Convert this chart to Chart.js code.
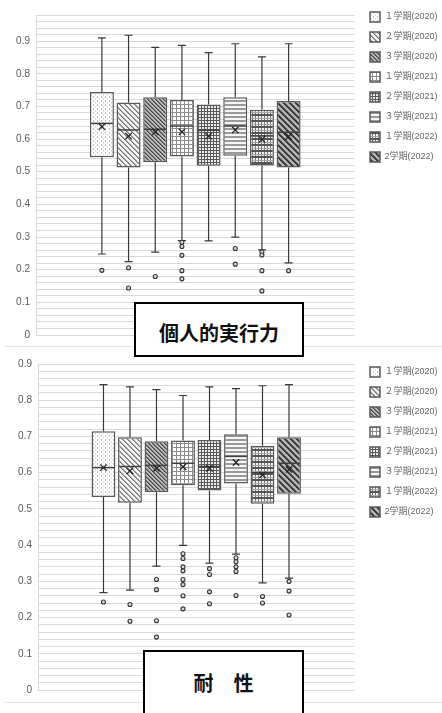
<!DOCTYPE html>
<html lang="ja">
<head>
<meta charset="utf-8">
<title>個人的実行力・耐性</title>
<script src="https://cdn.jsdelivr.net/npm/chart.js@4.4.1/dist/chart.umd.min.js"></script>
<style>
  html, body { margin: 0; padding: 0; background: #fff; }
  #page { position: relative; width: 442px; height: 713px; overflow: hidden; background: #fff; }
  canvas { position: absolute; left: 0; }
  .rule { position: absolute; left: 5px; width: 437px; height: 1px; background: #e4e4e4; }
  .titlebox {
    position: absolute; box-sizing: border-box; background: #fff;
    border: 2px solid #000; text-align: center; color: #111;
    font-family: "Noto Sans CJK JP", sans-serif; font-weight: 700; font-size: 20px;
  }
</style>
</head>
<body>
<div id="page">
  <canvas id="chartJikkou" width="442" height="347" style="top:0"></canvas>
  <canvas id="chartTaisei" width="442" height="366" style="top:347px"></canvas>
  <div class="rule" style="top:346px"></div>
  <div class="rule" style="top:702px"></div>
  <div class="titlebox" style="left:134px;top:302px;width:170px;height:55px;line-height:24px;padding-top:17px;">個人的実行力</div>
  <div class="titlebox" style="left:143px;top:650px;width:161px;height:80px;line-height:24px;padding-top:19px;">耐　性</div>
</div>
<script>
// Terms (legend entries)
const terms = ['１学期(2020)', '２学期(2020)', '３学期(2020)', '１学期(2021)',
               '２学期(2021)', '３学期(2021)', '１学期(2022)', '2学期(2022)'];

// 個人的実行力
const jikkouQ1     = [0.544, 0.513, 0.529, 0.547, 0.518, 0.549, 0.519, 0.513];
const jikkouQ3     = [0.744, 0.712, 0.728, 0.720, 0.706, 0.728, 0.690, 0.717];
const jikkouMedian = [0.648, 0.628, 0.630, 0.640, 0.627, 0.640, 0.610, 0.621];
const jikkouMean   = [0.638, 0.609, 0.622, 0.622, 0.609, 0.628, 0.599, 0.608];
const jikkouLow    = [0.248, 0.225, 0.254, 0.289, 0.288, 0.300, 0.261, 0.221];
const jikkouHigh   = [0.910, 0.918, 0.881, 0.887, 0.865, 0.892, 0.852, 0.892];
const jikkouOut    = [[0.198], [0.206, 0.144], [0.179], [0.284, 0.271, 0.244, 0.197, 0.172],
                      [], [0.265, 0.217], [0.254, 0.245, 0.197, 0.135], [0.197]];

// 耐性
const taiseiQ1     = [0.533, 0.517, 0.546, 0.565, 0.551, 0.570, 0.514, 0.542];
const taiseiQ3     = [0.714, 0.698, 0.687, 0.689, 0.690, 0.706, 0.674, 0.698];
const taiseiMedian = [0.614, 0.617, 0.620, 0.626, 0.617, 0.645, 0.600, 0.626];
const taiseiMean   = [0.614, 0.605, 0.612, 0.616, 0.612, 0.628, 0.594, 0.609];
const taiseiLow    = [0.269, 0.276, 0.342, 0.399, 0.350, 0.375, 0.296, 0.309];
const taiseiHigh   = [0.843, 0.837, 0.829, 0.813, 0.837, 0.832, 0.840, 0.843];
const taiseiOut    = [[0.243], [0.236, 0.190], [0.305, 0.277, 0.191, 0.146],
                      [0.376, 0.363, 0.340, 0.329, 0.305, 0.291, 0.260, 0.224],
                      [0.335, 0.319, 0.271, 0.238], [0.365, 0.354, 0.340, 0.327, 0.261],
                      [0.258, 0.240], [0.300, 0.273, 0.207]];

// Axis ranges and tick step
const jikkouMax = 0.98;
const taiseiMax = 0.9;
const tickStep = 0.02;

// ---- hatch fills ----
function makePattern(size, paint) {
  const c = document.createElement('canvas');
  c.width = size; c.height = size;
  const g = c.getContext('2d');
  paint(g, size);
  return g.createPattern(c, 'repeat');
}
function dot(g, x, y, col) { g.fillStyle = col; g.fillRect(x, y, 1, 1); }
function bg(g, s, col) { g.fillStyle = col; g.fillRect(0, 0, s, s); }

const fills = [
  // light vertical dashes
  makePattern(4, (g, s) => { bg(g, s, '#ffffff'); dot(g, 1, 0, '#b4b4b4'); dot(g, 1, 1, '#c8c8c8'); dot(g, 3, 2, '#d8d8d8'); dot(g, 3, 3, '#e4e4e4'); }),
  // wide downward diagonal
  makePattern(5, (g, s) => { bg(g, s, '#f4f4f4'); for (let i = 0; i < s; i++) { dot(g, i, i, '#737373'); dot(g, (i + 1) % s, i, '#a8a8a8'); } }),
  // dark downward diagonal
  makePattern(4, (g, s) => { bg(g, s, '#bababa'); for (let i = 0; i < s; i++) { dot(g, i, i, '#4a4a4a'); dot(g, (i + 1) % s, i, '#747474'); } }),
  // small grid
  makePattern(4, (g, s) => { bg(g, s, '#ffffff'); g.fillStyle = '#8c8c8c'; g.fillRect(0, 0, s, 1); g.fillRect(0, 0, 1, s); }),
  // dense dark grid
  makePattern(3, (g, s) => { bg(g, s, '#ececec'); g.fillStyle = '#585858'; g.fillRect(0, 0, s, 1); g.fillRect(0, 0, 1, s); }),
  // horizontal stripes
  makePattern(4, (g, s) => { bg(g, s, '#f6f6f6'); g.fillStyle = '#9a9a9a'; g.fillRect(0, 0, s, 2); }),
  // plaid
  makePattern(6, (g, s) => {
    bg(g, s, '#f2f2f2'); g.fillStyle = '#555555'; g.fillRect(0, 0, s, 2);
    g.fillStyle = '#767676'; g.fillRect(0, 2, 1, 4); g.fillRect(3, 2, 1, 4);
    g.fillStyle = '#a6a6a6'; g.fillRect(0, 4, s, 1);
  }),
  // dark wide downward diagonal
  makePattern(6, (g, s) => { bg(g, s, '#b4b4b4'); for (let i = 0; i < s; i++) { dot(g, i, i, '#383838'); dot(g, (i + 1) % s, i, '#383838'); dot(g, (i + 2) % s, i, '#666666'); } })
];

// ---- whiskers, medians, means and outliers on top of the boxes ----
function boxPlotPlugin(stats) {
  return {
    id: 'boxPlot',
    afterDatasetsDraw(chart) {
      const ctx = chart.ctx;
      const y = chart.scales.y;
      const py = v => y.getPixelForValue(v);
      ctx.save();
      chart.data.datasets.forEach((ds, i) => {
        const meta = chart.getDatasetMeta(i);
        if (meta.hidden) return;
        const bar = meta.data[0];
        const x = bar.x, half = bar.width / 2;
        // whiskers with caps
        ctx.strokeStyle = '#3a3a3a';
        ctx.lineWidth = 1.2;
        ctx.beginPath();
        ctx.moveTo(x, py(stats.high[i])); ctx.lineTo(x, py(stats.q3[i]));
        ctx.moveTo(x, py(stats.q1[i])); ctx.lineTo(x, py(stats.low[i]));
        ctx.moveTo(x - 4, py(stats.high[i])); ctx.lineTo(x + 4, py(stats.high[i]));
        ctx.moveTo(x - 4, py(stats.low[i])); ctx.lineTo(x + 4, py(stats.low[i]));
        ctx.stroke();
        // median
        ctx.strokeStyle = '#404040';
        ctx.lineWidth = 1.5;
        ctx.beginPath();
        ctx.moveTo(x - half + 1, py(stats.median[i]));
        ctx.lineTo(x + half - 1, py(stats.median[i]));
        ctx.stroke();
        // mean marker
        const m = py(stats.mean[i]), s = 3.2;
        ctx.strokeStyle = '#262626';
        ctx.lineWidth = 1.3;
        ctx.beginPath();
        ctx.moveTo(x - s, m - s); ctx.lineTo(x + s, m + s);
        ctx.moveTo(x - s, m + s); ctx.lineTo(x + s, m - s);
        ctx.stroke();
        // outliers
        ctx.lineWidth = 1.1;
        ctx.strokeStyle = '#333333';
        ctx.fillStyle = '#dcdcdc';
        stats.out[i].forEach(v => {
          ctx.beginPath();
          ctx.arc(x, py(v), 2, 0, Math.PI * 2);
          ctx.fill();
          ctx.stroke();
        });
      });
      ctx.restore();
    }
  };
}

// ---- legend placement beside the plot ----
const legendPlace = {
  id: 'legendPlace',
  afterLayout(chart, args, opts) {
    const lg = chart.legend;
    if (!lg) return;
    const w = lg.right - lg.left;
    lg.left = opts.left; lg.right = opts.left + w;
    lg.top = opts.top;
  }
};

Chart.defaults.font.family = "'Liberation Sans', 'Noto Sans CJK JP', sans-serif";
Chart.defaults.color = '#595959';

function tickLabel(v) {
  const t = Math.round(v * 100);
  if (t % 10 !== 0) return '';
  return t === 0 ? '0' : String(t / 100);
}

function buildChart(canvasId, stats, yMax, axisWidth, pad, legendTop) {
  const datasets = terms.map((label, i) => ({
    label,
    data: [[stats.q1[i], stats.q3[i]]],
    backgroundColor: fills[i],
    borderColor: '#5a5a5a',
    borderWidth: 1.5,
    borderSkipped: false,
    categoryPercentage: 0.67,
    barPercentage: 0.9
  }));
  return new Chart(document.getElementById(canvasId), {
    type: 'bar',
    data: { labels: [''], datasets },
    options: {
      responsive: false,
      animation: false,
      devicePixelRatio: 1,
      layout: { padding: pad },
      scales: {
        x: { display: false },
        y: {
          min: 0,
          max: yMax,
          ticks: {
            stepSize: tickStep,
            autoSkip: false,
            maxTicksLimit: 100,
            padding: 6,
            color: '#595959',
            font: { size: 10 },
            callback: tickLabel
          },
          grid: { color: '#d9d9d9', drawTicks: false },
          border: { color: '#d9d9d9' },
          afterFit(scale) { scale.width = axisWidth; }
        }
      },
      plugins: {
        tooltip: { enabled: false },
        legend: {
          position: 'right',
          align: 'start',
          maxWidth: 88,
          labels: {
            boxWidth: 10,
            boxHeight: 10,
            padding: 10,
            color: '#666666',
            font: { size: 9 }
          }
        },
        legendPlace: { left: 360, top: legendTop }
      }
    },
    plugins: [boxPlotPlugin(stats), legendPlace]
  });
}

buildChart('chartJikkou', {
  q1: jikkouQ1, q3: jikkouQ3, median: jikkouMedian, mean: jikkouMean,
  low: jikkouLow, high: jikkouHigh, out: jikkouOut
}, jikkouMax, 36, { top: 15, bottom: 12, left: 0, right: 0 }, 2);

buildChart('chartTaisei', {
  q1: taiseiQ1, q3: taiseiQ3, median: taiseiMedian, mean: taiseiMean,
  low: taiseiLow, high: taiseiHigh, out: taiseiOut
}, taiseiMax, 38, { top: 17, bottom: 23, left: 0, right: 0 }, 10);
</script>
</body>
</html>
